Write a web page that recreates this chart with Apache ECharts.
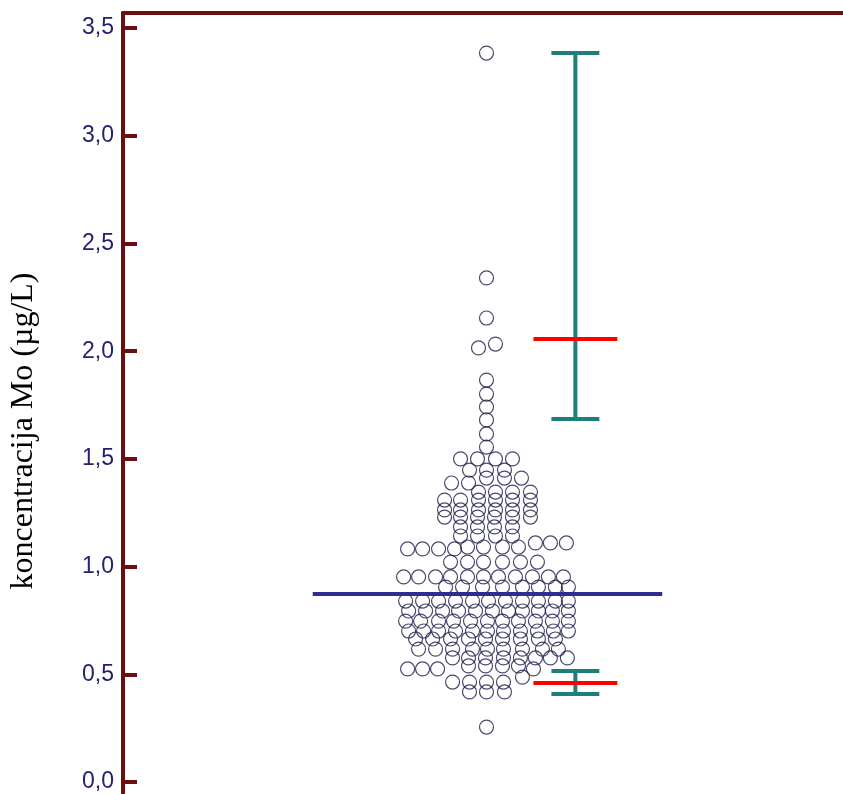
<!DOCTYPE html>
<html>
<head>
<meta charset="utf-8">
<script src="https://cdn.jsdelivr.net/npm/echarts@6/dist/echarts.min.js"></script>
<style>
  html, body { margin: 0; padding: 0; background: #fff; }
  #chart { width: 843px; height: 794px; }
</style>
</head>
<body>
<div id="chart"></div>
<script>
// y tick values
const yTicks = [0, 0.5, 1.0, 1.5, 2.0, 2.5, 3.0, 3.5]

// dot plot: one level per row of dots, and the horizontal offsets of the dots in that row
const dotLevels = [
  3.384, 2.340, 2.154, 2.033, 2.015, 1.866, 1.801, 1.741, 1.681, 1.616, 1.555,
  1.500, 1.448, 1.411, 1.388, 1.346, 1.309, 1.263, 1.230, 1.184, 1.142,
  1.110, 1.091, 1.082, 1.021, 0.952, 0.905, 0.840, 0.794, 0.747, 0.701,
  0.664, 0.617, 0.576, 0.539, 0.525, 0.487, 0.464, 0.418, 0.255
]
const dotOffsets = [
  [-0.1], [-0.1], [-0.1], [0.8], [-0.9], [-0.1], [-0.1], [-0.1], [-0.1], [-0.1], [-0.1],
  [-2.7, -1.0, 0.8, 2.5],
  [-1.8, -0.1, 1.7],
  [-0.1, 1.7, 3.4],
  [-3.6, -1.9],
  [-0.9, 0.8, 2.5, 4.3],
  [-4.3, -2.7, -0.9, 0.8, 2.5, 4.3],
  [-4.3, -2.7, -0.9, 0.8, 2.5, 4.3],
  [-4.3, -2.7, -1.0, 0.7, 2.5, 4.3],
  [-2.7, -1.0, 0.7, 2.5],
  [-2.7, -1.0, 0.8, 2.5],
  [4.8, 6.3, 7.9],
  [-2.0, -0.4, 1.5, 3.1],
  [-8.0, -6.5, -4.9, -3.3],
  [-3.7, -2.0, -0.4, 1.5, 3.3, 5.0],
  [-8.4, -6.9, -5.2, -3.7, -2.0, -0.4, 1.1, 2.8, 4.5, 6.1, 7.6],
  [-4.2, -2.5, -0.5, 1.5, 3.5, 5.1, 6.8, 8.1],
  [-8.2, -6.5, -4.9, -3.2, -1.5, 0.1, 1.8, 3.5, 5.1, 6.8, 8.1],
  [-7.9, -6.2, -4.5, -2.9, -1.2, 0.5, 2.1, 3.5, 5.1, 6.5, 8.1],
  [-8.2, -6.7, -4.9, -3.4, -1.7, 0.0, 1.5, 3.1, 4.8, 6.5, 8.1],
  [-7.9, -6.4, -4.9, -3.2, -1.5, 0.0, 1.6, 3.3, 5.0, 6.6, 8.1],
  [-7.2, -5.5, -3.7, -1.9, -0.2, 1.5, 3.3, 5.1, 6.8],
  [-6.9, -5.2, -3.5, -1.5, 0.0, 1.6, 3.5, 5.5, 7.1],
  [-3.5, -1.9, -0.2, 1.6, 3.3, 4.8, 6.3, 8.0],
  [-1.9, -0.2, 1.5, 3.1],
  [-8.0, -6.5, -5.0, 4.6],
  [3.5],
  [-3.5, -1.8, -0.1, 1.6],
  [-1.8, -0.1, 1.7],
  [-0.1]
]

// central line (mean)
const meanValue = 0.873

// intervals: [low, mid, high]
const intervalLow = [1.685, 0.409]
const intervalMid = [2.057, 0.460]
const intervalHigh = [3.384, 0.515]

const chart = echarts.init(document.getElementById('chart'))

const dots = []
dotLevels.forEach((v, i) => {
  dotOffsets[i].forEach(dx => dots.push([dx, v]))
})

const barX = 8.8
const intervals = intervalLow.map((lo, i) => [barX, lo, intervalMid[i], intervalHigh[i]])

const option = {
  animation: false,
  grid: { left: 122, right: 0, top: 13, bottom: 1 },
  xAxis: {
    type: 'value',
    position: 'top',
    min: -36.5,
    max: 35.6,
    axisLine: { show: true, onZero: false, lineStyle: { color: '#6a0f0f', width: 4 } },
    axisTick: { show: false },
    axisLabel: { show: false },
    splitLine: { show: false }
  },
  yAxis: {
    type: 'value',
    min: -0.051,
    max: 3.57,
    name: 'koncentracija Mo (µg/L)',
    nameLocation: 'middle',
    nameGap: 83,
    nameTextStyle: {
      fontFamily: 'Liberation Serif',
      fontSize: 32,
      color: '#000',
      padding: [0, 56, 0, 0]
    },
    axisLine: { show: true, onZero: false, lineStyle: { color: '#6a0f0f', width: 4 } },
    axisTick: {
      show: true,
      inside: true,
      length: 14,
      customValues: yTicks,
      lineStyle: { color: '#6a0f0f', width: 4 }
    },
    axisLabel: {
      customValues: yTicks,
      margin: 9,
      color: '#22226e',
      fontFamily: 'Liberation Sans',
      fontSize: 23,
      formatter: v => v.toFixed(1).replace('.', ',')
    },
    splitLine: { show: false }
  },
  series: [
    {
      type: 'scatter',
      data: dots,
      symbol: 'circle',
      symbolSize: 14,
      itemStyle: { color: 'rgba(0,0,0,0)', borderColor: '#1c1c4a', borderWidth: 1.2 },
      z: 2
    },
    {
      type: 'line',
      data: [[-17.5, meanValue], [17.5, meanValue]],
      symbol: 'none',
      lineStyle: { color: '#2d2d92', width: 4 },
      z: 3
    },
    {
      type: 'custom',
      data: intervals,
      z: 4,
      renderItem: (params, api) => {
        const x = api.value(0)
        const lo = api.coord([x, api.value(1)])
        const mid = api.coord([x, api.value(2)])
        const hi = api.coord([x, api.value(3)])
        const capL = api.coord([x - 2.4, api.value(1)])[0]
        const capR = api.coord([x + 2.4, api.value(1)])[0]
        const redL = api.coord([x - 4.2, api.value(2)])[0]
        const redR = api.coord([x + 4.2, api.value(2)])[0]
        const teal = { stroke: '#1d7f79', lineWidth: 4 }
        return {
          type: 'group',
          children: [
            { type: 'line', shape: { x1: lo[0], y1: lo[1], x2: hi[0], y2: hi[1] }, style: teal },
            { type: 'line', shape: { x1: capL, y1: lo[1], x2: capR, y2: lo[1] }, style: teal },
            { type: 'line', shape: { x1: capL, y1: hi[1], x2: capR, y2: hi[1] }, style: teal },
            { type: 'line', shape: { x1: redL, y1: mid[1], x2: redR, y2: mid[1] }, style: { stroke: '#ff0000', lineWidth: 4 } }
          ]
        }
      }
    }
  ]
}

chart.setOption(option)
</script>
</body>
</html>
